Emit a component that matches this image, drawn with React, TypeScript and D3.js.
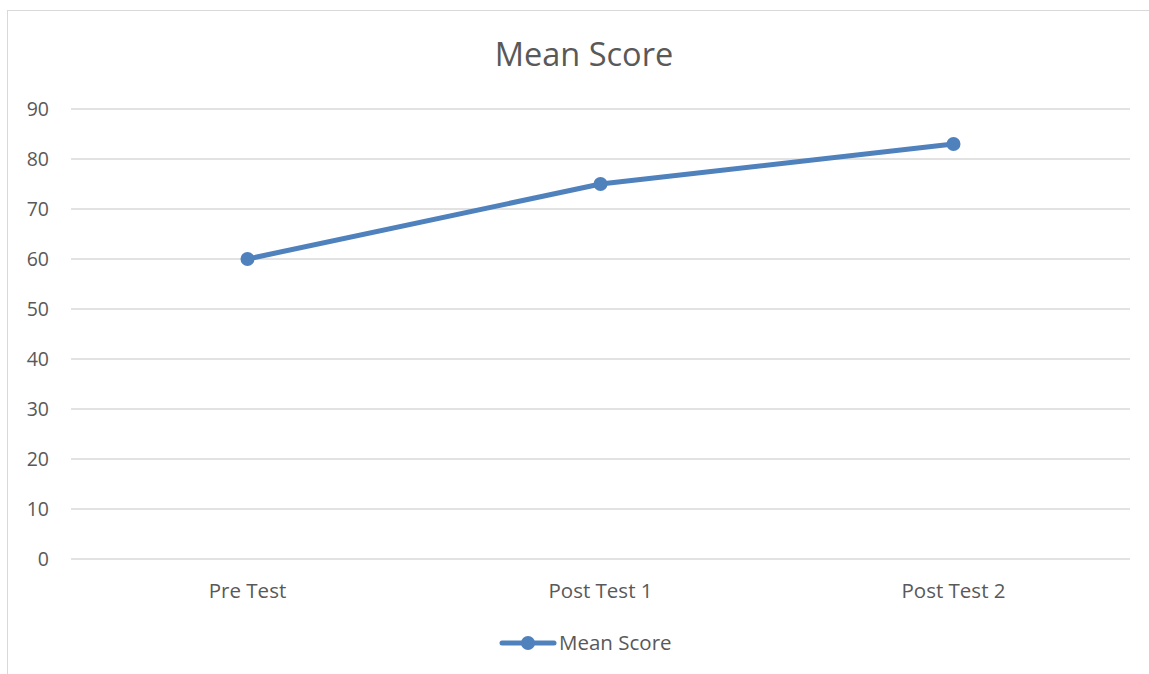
import React from 'react';
import * as d3 from 'd3';

const categories = ['Pre Test', 'Post Test 1', 'Post Test 2'];
const meanScore = [60, 75, 83];
const yTicks = [0, 10, 20, 30, 40, 50, 60, 70, 80, 90];
const seriesName = 'Mean Score';
const chartTitle = 'Mean Score';

const W = 1149;
const H = 674;
const FONT = '"Open Sans", "Liberation Sans", sans-serif';
const TEXT = '#595959';
const BLUE = '#4f81bd';

export default function App() {
  const margin = { top: 109, right: 19, bottom: 115, left: 71 };
  const x = d3.scaleBand<string>().domain(categories).range([margin.left, W - margin.right]);
  const y = d3.scaleLinear().domain([0, 90]).range([H - margin.bottom, margin.top]);

  const pts = categories.map((c, i) => [x(c)! + x.bandwidth() / 2, y(meanScore[i])] as [number, number]);
  const line = d3.line()(pts) || '';

  return (
    <svg width={W} height={H} style={{ position: 'absolute', left: 0, top: 0, fontFamily: FONT }}>
      <rect x={0} y={0} width={W} height={H} fill="#fff" />
      <rect x={7.5} y={10.5} width={W} height={H} fill="none" stroke="#d9d9d9" strokeWidth={1} />
      <text x={584} y={66} textAnchor="middle" fontSize={32.5} fill={TEXT}>{chartTitle}</text>
      {yTicks.map(t => (
        <g key={t}>
          <line x1={margin.left} x2={W - margin.right} y1={y(t)} y2={y(t)} stroke="#d9d9d9" strokeWidth={1.5} />
          <text x={49} y={y(t)} dy="0.35em" textAnchor="end" fontSize={19.5} fill={TEXT}>{t}</text>
        </g>
      ))}
      {categories.map(c => (
        <text key={c} x={x(c)! + x.bandwidth() / 2} y={598} textAnchor="middle" fontSize={20.5} fill={TEXT}>{c}</text>
      ))}
      <path d={line} fill="none" stroke={BLUE} strokeWidth={5} strokeLinejoin="round" strokeLinecap="round" />
      {pts.map((p, i) => (
        <circle key={i} cx={p[0]} cy={p[1]} r={7} fill={BLUE} />
      ))}
      <line x1={502} x2={554} y1={643} y2={643} stroke={BLUE} strokeWidth={5} strokeLinecap="round" />
      <circle cx={528} cy={643} r={7} fill={BLUE} />
      <text x={559} y={643} dy="0.35em" fontSize={20.5} fill={TEXT}>{seriesName}</text>
    </svg>
  );
}
